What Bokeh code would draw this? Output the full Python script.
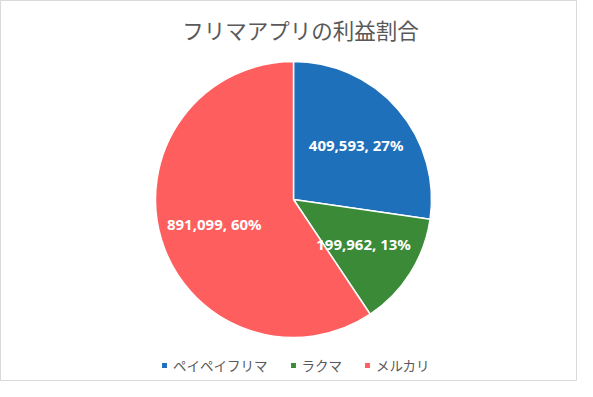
import math
from bokeh.plotting import figure
from bokeh.models import ColumnDataSource, Label, Legend, LegendItem
from bokeh.core.properties import value
from bokeh.embed import file_html
from bokeh.resources import INLINE

# ---- data ----
apps = ["ペイペイフリマ", "ラクマ", "メルカリ"]
profits = [409593, 199962, 891099]
colors = ["#1F70BA", "#3A8A38", "#FF5E5E"]
title_text = "フリマアプリの利益割合"

W, H = 577, 381
CX, CY, R = 293, 182, 138

total = sum(profits)
raw = [v / total * 100 for v in profits]
pcts = [math.floor(r) for r in raw]
rem = sorted(range(len(raw)), key=lambda i: raw[i] - pcts[i], reverse=True)
for i in rem[: 100 - sum(pcts)]:
    pcts[i] += 1

starts, ends, lx, ly, labels = [], [], [], [], []
cum = 0.0
for v, pc in zip(profits, pcts):
    frac = v / total
    a0 = math.pi / 2 - cum * 2 * math.pi
    a1 = math.pi / 2 - (cum + frac) * 2 * math.pi
    starts.append(a0)
    ends.append(a1)
    mid = (a0 + a1) / 2
    lx.append(CX + 0.6 * R * math.cos(mid))
    ly.append(CY + 0.6 * R * math.sin(mid))
    labels.append(f"{v:,}, {pc}%")
    cum += frac

src = ColumnDataSource(dict(name=apps, start=starts, end=ends, color=colors,
                            lx=lx, ly=ly, label=labels))

p = figure(width=W, height=H, x_range=(0, W), y_range=(0, H),
           output_backend="svg", toolbar_location=None, min_border=0)
p.axis.visible = False
p.grid.visible = False
p.outline_line_color = "#D9D9D9"
p.outline_line_width = 1
p.background_fill_color = "white"
p.border_fill_color = "white"

wr = p.wedge(x=CX, y=CY, radius=R, start_angle="start", end_angle="end",
             direction="clock", fill_color="color", line_color="white",
             line_width=1.5, source=src)

p.text(x="lx", y="ly", text="label", source=src, text_color="white",
       text_font=value("Noto Sans"), text_font_style="bold",
       text_font_size="15px", text_align="center", text_baseline="middle")

p.add_layout(Label(x=300, y=H - 29, x_units="screen", y_units="screen",
                   text=title_text, text_font="Noto Sans CJK JP",
                   text_font_size="21.5px", text_color="#595959",
                   text_align="center", text_baseline="middle"))

items = [LegendItem(label=a, renderers=[wr], index=i) for i, a in enumerate(apps)]
legend = Legend(items=items, orientation="horizontal", location=(160, 6),
                glyph_width=8, glyph_height=8, label_standoff=5, spacing=21,
                label_text_font="Noto Sans CJK JP", label_text_font_size="13.5px",
                label_text_color="#595959", border_line_color=None,
                background_fill_alpha=0, padding=0, margin=0,
                label_height=14)
p.add_layout(legend, "center")

open("out.html", "w").write(file_html(p, INLINE))
